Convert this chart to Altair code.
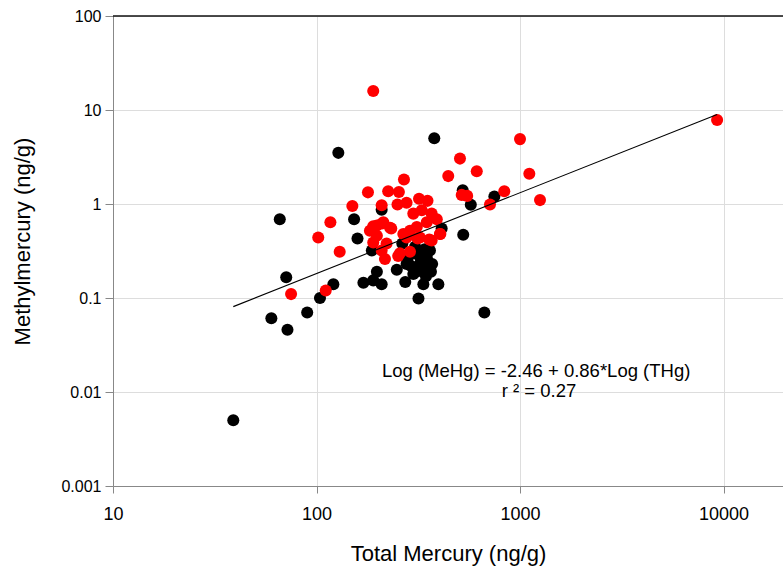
import altair as alt
import pandas as pd
import math

# ---- data ----
black_thg = [39, 60, 66, 71, 72, 90, 104, 121, 128, 153,
             159, 209, 187, 198, 170, 190, 209, 248, 277, 299,
             273, 322, 348, 342, 335, 317, 397, 361, 264, 379,
             523, 748, 573, 412, 526, 668, 300, 320, 340, 290,
             330, 355, 370, 310, 345, 365, 280, 305]
black_mehg = [0.005, 0.061, 0.69, 0.166, 0.046, 0.07, 0.10, 0.14, 3.5, 0.69,
              0.43, 0.87, 0.32, 0.19, 0.145, 0.154, 0.14, 0.2, 0.23, 0.18,
              0.148, 0.23, 0.27, 0.2, 0.14, 0.099, 0.14, 0.32, 0.38, 5.0,
              1.40, 1.2, 0.98, 0.55, 0.47, 0.07, 0.3, 0.28, 0.33, 0.22,
              0.25, 0.24, 0.23, 0.19, 0.17, 0.19, 0.26, 0.35]

red_thg = [190, 102, 117, 130, 150, 179, 209, 269, 225, 254,
           250, 277, 319, 351, 444, 190, 210, 230, 299, 329,
           368, 390, 404, 348, 311, 288, 267, 314, 358, 288,
           252, 221, 198, 183, 190, 217, 209, 198, 213, 233,
           277, 322, 368, 75, 111, 1000, 507, 613, 1111, 517,
           550, 712, 837, 1254, 9300, 257, 406]
red_mehg = [15.9, 0.44, 0.64, 0.31, 0.95, 1.33, 0.97, 1.82, 1.37, 1.34,
            0.99, 1.03, 1.14, 1.08, 1.98, 0.58, 0.62, 0.56, 0.79, 0.86,
            0.79, 0.69, 0.48, 0.64, 0.57, 0.52, 0.48, 0.43, 0.42, 0.31,
            0.28, 0.38, 0.46, 0.52, 0.39, 0.26, 0.32, 0.59, 0.64, 0.55,
            0.44, 0.44, 0.41, 0.11, 0.12, 4.9, 3.04, 2.23, 2.1, 1.25,
            1.22, 0.99, 1.37, 1.1, 7.83, 0.30, 0.48]

# regression: Log(MeHg) = -2.46 + 0.86*Log(THg)
intercept = -2.46
slope = 0.86
fit_x = [39, 9300]

x_ticks = [10, 100, 1000, 10000]
y_ticks = [0.001, 0.01, 0.1, 1, 10, 100]
x_domain = [10, 19600]
y_domain = [0.001, 100]

ann_lines = ["Log (MeHg) = -2.46 + 0.86*Log (THg)", "r ² = 0.27"]
ann_x = [1200, 1240]
ann_y = [0.0143, 0.0088]

FONT = "Liberation Sans"
W, H = 670, 470

pts = pd.DataFrame({
    "thg": black_thg + red_thg,
    "mehg": black_mehg + red_mehg,
    "group": ["black"] * len(black_thg) + ["red"] * len(red_thg),
    "ord": list(range(len(black_thg) + len(red_thg))),
})
fit = pd.DataFrame({
    "thg": fit_x,
    "mehg": [10 ** (intercept + slope * math.log10(v)) for v in fit_x],
})
ann = pd.DataFrame({"thg": ann_x, "mehg": ann_y, "label": ann_lines})

xscale = alt.Scale(type="log", domain=x_domain, nice=False)
yscale = alt.Scale(type="log", domain=y_domain, nice=False)

xaxis = alt.Axis(values=x_ticks, format="~g", title="Total Mercury (ng/g)",
                 labelFontSize=18, titleFontSize=22, tickSize=7, labelPadding=12,
                 titleFontWeight="normal", titleBaseline="alphabetic",
                 titleY=74, labelFlush=False, labelOverlap=False)
yaxis = alt.Axis(values=y_ticks, format="~g", title="Methylmercury (ng/g)",
                 labelFontSize=16, titleFontSize=22, tickSize=8, labelPadding=4,
                 titleFontWeight="normal", titleBaseline="alphabetic",
                 titleX=-84, titleY=225, titleAngle=-90, labelFlush=False,
                 labelOverlap=False)

points = alt.Chart(pts).mark_circle(size=145, opacity=1).encode(
    x=alt.X("thg:Q", scale=xscale, axis=xaxis),
    y=alt.Y("mehg:Q", scale=yscale, axis=yaxis),
    color=alt.Color("group:N", scale=alt.Scale(domain=["black", "red"],
                                               range=["#000000", "#ff0000"]),
                    legend=None),
    order=alt.Order("ord:Q"),
)

line = alt.Chart(fit).mark_line(color="#000000", strokeWidth=1.1).encode(
    x=alt.X("thg:Q", scale=xscale),
    y=alt.Y("mehg:Q", scale=yscale),
)

text = alt.Chart(ann).mark_text(font=FONT, fontSize=18.5, align="center",
                                baseline="alphabetic", color="#000000").encode(
    x=alt.X("thg:Q", scale=xscale),
    y=alt.Y("mehg:Q", scale=yscale),
    text="label:N",
)

top = alt.Chart(pd.DataFrame({"a": [0]})).mark_rule(color="#111111", strokeWidth=1.5).encode(
    x=alt.value(0), x2=alt.value(W), y=alt.value(0)
)

chart = alt.layer(points, line, text, top).properties(
    width=W, height=H,
    autosize=alt.AutoSizeParams(type="none"),
    padding={"left": 113, "top": 16, "right": 0, "bottom": 81},
).configure_view(stroke=None).configure_axis(
    grid=False, domainColor="#111111", domainWidth=1.5, tickColor="#111111",
    tickWidth=1.5, labelColor="#000000", titleColor="#000000",
    labelFont=FONT, titleFont=FONT,
).configure(background="white")

chart.save("out.html", embed_options={"renderer": "svg", "actions": False})
